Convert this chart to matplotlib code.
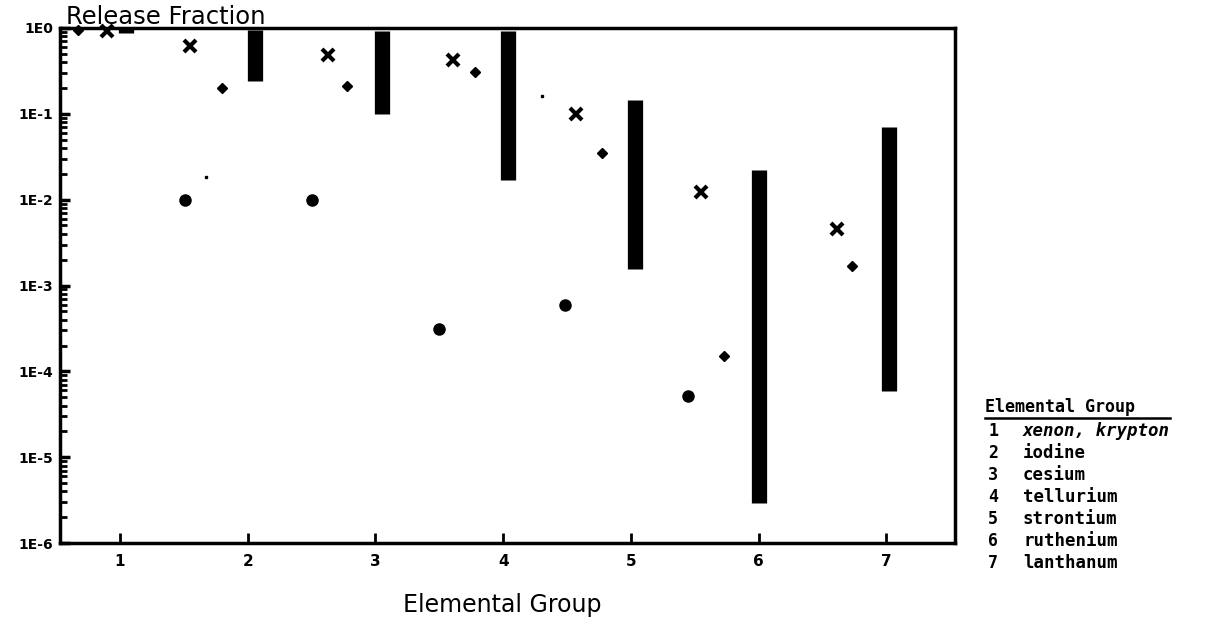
import matplotlib.pyplot as plt
import numpy as np

# marker positions (x = position along group axis)
circle_x = [1.51, 2.50, 3.50, 4.48, 5.45]
circle_y = [1.0e-2, 1.0e-2, 3.1e-4, 6.0e-4, 5.2e-5]

cross_x = [0.90, 1.55, 2.63, 3.61, 4.57, 5.55, 6.61]
cross_y = [0.93, 0.62, 0.48, 0.42, 0.10, 0.0124, 0.0046]

diamond_x = [0.67, 1.80, 2.78, 3.78, 4.77, 5.73, 6.73]
diamond_y = [0.95, 0.20, 0.21, 0.31, 0.035, 1.5e-4, 1.7e-3]

# release range bars per group
bar_x = [1.05, 2.06, 3.05, 4.04, 5.03, 6.00, 7.02]
bar_low = [0.88, 0.24, 0.10, 0.017, 1.55e-3, 2.9e-6, 5.9e-5]
bar_high = [1.0, 0.95, 0.93, 0.93, 0.144, 0.022, 0.071]

# stray small marks in the scan
dash_x = [1.67, 4.30]
dash_y = [0.0185, 0.16]

groups = ['1', '2', '3', '4', '5', '6', '7']
names = ['xenon, krypton', 'iodine', 'cesium', 'tellurium',
         'strontium', 'ruthenium', 'lanthanum']

fig = plt.figure(figsize=(12.11, 6.2), dpi=100)
ax = fig.add_axes([0.0495, 0.124, 0.7395, 0.831])

ax.vlines(bar_x, bar_low, bar_high, color='black', linewidth=11)
ax.plot(circle_x, circle_y, 'o', color='black', markersize=8, clip_on=False)
ax.plot(cross_x, cross_y, 'x', color='black', markersize=9,
        markeredgewidth=3, clip_on=False)
ax.plot(diamond_x, diamond_y, 'D', color='black', markersize=5, clip_on=False)
ax.plot(dash_x, dash_y, 's', color='black', markersize=2)

ax.set_yscale('log')
ax.set_ylim(1e-6, 1e0)
ax.set_xlim(0.53, 7.54)
ax.set_xticks(range(1, 8))
ax.set_xticklabels(groups, fontsize=11, fontweight='bold')
ax.set_yticks([1e0, 1e-1, 1e-2, 1e-3, 1e-4, 1e-5, 1e-6])
ax.set_yticklabels(['1E0', '1E-1', '1E-2', '1E-3', '1E-4', '1E-5', '1E-6'],
                   fontsize=10, fontweight='heavy')
ax.tick_params(axis='y', which='major', direction='in', length=7, width=2.5, pad=5)
ax.tick_params(axis='y', which='minor', direction='in', length=5, width=2)
ax.tick_params(axis='x', which='major', direction='in', length=7, width=2, pad=8)
for s in ax.spines.values():
    s.set_linewidth(2.5)

fig.text(66 / 1211, 0.953, 'Release Fraction', fontsize=17.5, va='bottom')
fig.text(502 / 1211, 1 - 605 / 620, 'Elemental Group', fontsize=17,
         ha='center', va='center')

# legend block on the right
fig.text(985 / 1211, 1 - 407 / 620, 'Elemental Group', family='DejaVu Sans Mono',
         fontsize=12, fontweight='bold', va='center')
fig.add_artist(plt.Line2D([985 / 1211, 1170 / 1211], [1 - 418 / 620, 1 - 418 / 620],
                          color='black', linewidth=1.8))
for i, (g, n) in enumerate(zip(groups, names)):
    yy = 1 - (431 + 22 * i) / 620
    fig.text(988 / 1211, yy, g, family='DejaVu Sans Mono', fontsize=12,
             fontweight='bold', va='center')
    fig.text(1023 / 1211, yy, n, family='DejaVu Sans Mono', fontsize=12.5,
             fontweight='bold', va='center', style='italic' if i == 0 else 'normal')

plt.savefig('out.png', dpi=100)
